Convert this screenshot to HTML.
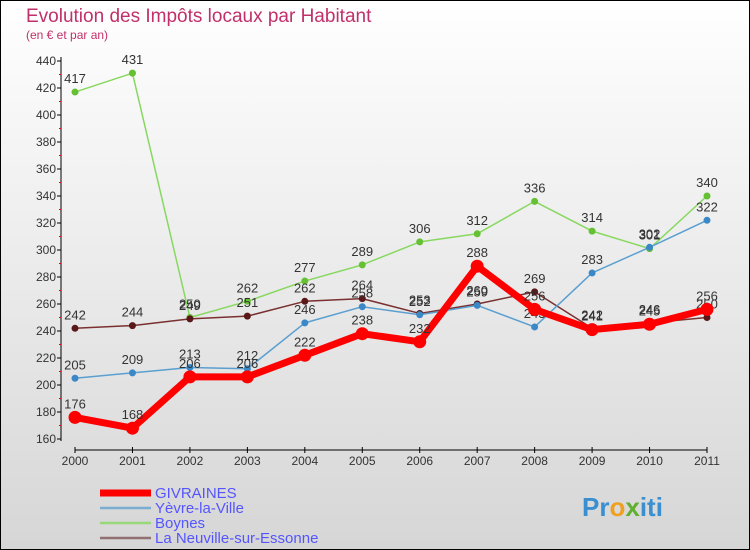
<!DOCTYPE html>
<html><head><meta charset="utf-8"><style>
body{margin:0}
svg{display:block;font-family:"Liberation Sans",sans-serif}
</style></head><body>
<svg width="750" height="550">
<defs><linearGradient id="bg" x1="0" y1="0" x2="0" y2="1"><stop offset="0" stop-color="#ffffff"/><stop offset="1" stop-color="#d6d6d6"/></linearGradient></defs>
<rect x="0.5" y="0.5" width="749" height="549" fill="url(#bg)" stroke="#000"/>
<text x="26" y="22" font-size="19" fill="#c0306a">Evolution des Impôts locaux par Habitant</text>
<text x="26" y="39" font-size="12" fill="#c0306a">(en € et par an)</text>
<g id="axes"></g><g id="series"></g><g id="legend"></g>
<text x="582" y="516" font-size="26" font-weight="bold" fill="#3a8fd0">Pr<tspan fill="#f0a020">o</tspan><tspan fill="#60b030">x</tspan>iti</text>
</svg>
<script>
const years=["2000","2001","2002","2003","2004","2005","2006","2007","2008","2009","2010","2011"];
const yTicks=[160,180,200,220,240,260,280,300,320,340,360,380,400,420,440];
const givraines=[176,168,206,206,222,238,232,288,256,241,245,256];
const yevre=[205,209,213,212,246,258,252,259,243,283,302,322];
const boynes=[417,431,250,262,277,289,306,312,336,314,301,340];
const neuville=[242,244,249,251,262,264,253,260,269,242,246,250];
const NS="http://www.w3.org/2000/svg";
const X=i=>75+i*(707-75)/11, Y=v=>439-(v-160)*1.35;
function mk(t,a,p){const e=document.createElementNS(NS,t);for(const k in a)e.setAttribute(k,a[k]);p.appendChild(e);return e;}
const ax=document.getElementById('axes');
let l=mk('line',{x1:61,y1:57,x2:61,y2:441,stroke:'#000'},ax);

yTicks.forEach(v=>{mk('line',{x1:57,x2:61,y1:Y(v),y2:Y(v),stroke:'#000'},ax);
 if(v<440)mk('line',{x1:59,x2:61,y1:Y(v+10),y2:Y(v+10),stroke:'#e00'},ax);
 const t=mk('text',{x:56,y:Y(v)+4,'font-size':12,fill:'#333','text-anchor':'end'},ax);t.textContent=v;
 });
l=mk('line',{x1:75,y1:450,x2:707,y2:450,stroke:'#000'},ax);

years.forEach((y,i)=>{mk('line',{x1:X(i),x2:X(i),y1:447,y2:453,stroke:'#000'},ax);
 const t=mk('text',{x:X(i),y:465,'font-size':12,fill:'#333','text-anchor':'middle'},ax);t.textContent=y;
 });
const sg=document.getElementById('series');
const series=[[boynes,'#88d860','#66c033',1.5,3.5,'boynes'],[neuville,'#7a3030','#5a1818',1.5,3.5,'la-neuville'],[yevre,'#5a9fd0','#3a88c8',1.5,3.5,'yevre-la-ville'],[givraines,'#ff0000','#ff0000',7,6.5,'givraines']];
series.forEach(([d,c,pc,w,r,n])=>{
 const p=mk('polyline',{points:d.map((v,i)=>X(i)+','+Y(v)).join(' '),fill:'none',stroke:c,'stroke-width':w,'stroke-linejoin':'round'},sg);
 
 d.forEach((v,i)=>{const c2=mk('circle',{cx:X(i),cy:Y(v),r:r,fill:pc},sg);
  
  const t=mk('text',{x:X(i),y:Y(v)-9,'font-size':13,fill:'#333','text-anchor':'middle'},sg);t.textContent=v;
  });
});
const lg=document.getElementById('legend');
[['GIVRAINES','#ff0000',7],['Yèvre-la-Ville','#7aaed0',2.5],['Boynes','#98d878',2.5],['La Neuville-sur-Essonne','#907070',2.5]].forEach(([n,c,w],k)=>{
 const y=493+k*15;
 const g=mk('g',{},lg);
 mk('line',{x1:100,x2:151,y1:y,y2:y,stroke:c,'stroke-width':w},g);
 const t=mk('text',{x:155,y:y+5,'font-size':15,fill:'#5555ff'},g);t.textContent=n;
});
</script>
</body></html>
